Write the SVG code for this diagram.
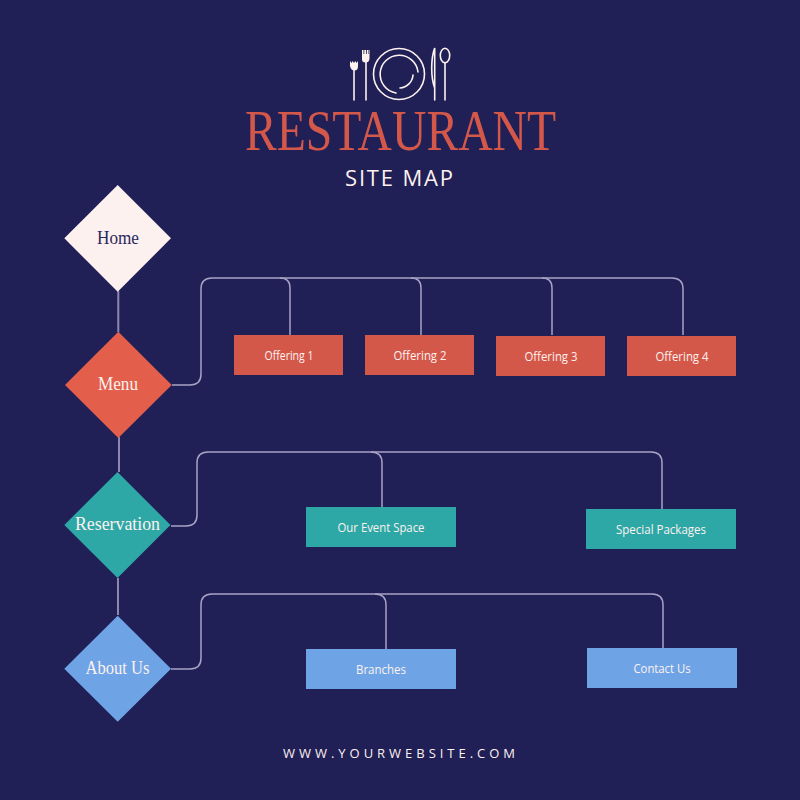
<svg xmlns="http://www.w3.org/2000/svg" width="800" height="800" viewBox="0 0 800 800">
<style>
.ser{font-family:"Liberation Serif","Times New Roman",serif}
.san{font-family:"Open Sans","Liberation Sans",sans-serif}
.d{font-size:18px;text-anchor:middle;fill:#fdf1ef}
.b{font-size:13px;text-anchor:middle;fill:#fdf1ef}
.c{fill:none;stroke:#a8a2c4;stroke-width:1.5}
.v{fill:none;stroke:#8d87ad;stroke-width:2}
.i{fill:none;stroke:#fdf1ef;stroke-width:1.6;stroke-linecap:round}
.f{fill:#fdf1ef}
.r{fill:#d4584a}.t{fill:#2ea8a6}.u{fill:#6ea4e6}
</style>
<rect width="800" height="800" fill="#201f56"/>
<g id="icon" class="i">
<path d="M354 100V70"/>
<path class="f" stroke="none" d="M350 61l1.500 2 1.200-2 1.300 2 1.300-2 1.200 2 1.500-2v5q0 4.500-3.500 4.500T350 66z"/>
<path d="M366 100V62"/>
<path class="f" stroke="none" d="M362 50h1.500v4h.8v-4h1.700v4h.8v-4h1.700v4h.5v-4h.5v8q0 4.500-4 4.500T362 58z"/>
<circle cx="399" cy="74" r="25.500"/>
<path d="M418 72A19 19 0 1 0 396 93"/>
<path d="M413 75A14 14 0 0 1 400 88"/>
<path d="M434.700 100V48q-3 8-3 20t3 20"/>
<ellipse cx="445" cy="55.500" rx="4.700" ry="7.300"/>
<path d="M445 63V100"/>
</g>
<g id="title">
<text class="ser" x="400.500" y="150" font-size="56" text-anchor="middle" textLength="311" lengthAdjust="spacingAndGlyphs" fill="#d4584a">RESTAURANT</text>
<text class="san" x="399" y="186" font-size="22" text-anchor="middle" textLength="108" fill="#fdf1ef">SITE MAP</text>
</g>
<g id="connectors">
<path class="v" d="M118.300 291V332M119 437V472M118 578V615"/>
<g class="c">
<path d="M172 385H190Q201 385 201 374V289Q201 278 212 278H672Q683 278 683 289V335"/>
<path d="M280 278Q290 278 290 288V335M411 278Q421 278 421 288V335M542 278Q552 278 552 288V335"/>
<path d="M171 526H186Q197 526 197 515V463Q197 452 208 452H651Q662 452 662 463V509"/>
<path d="M371 452Q382 452 382 463V507"/>
<path d="M171 669H190Q201 669 201 658V605Q201 594 212 594H652Q663 594 663 605V648"/>
<path d="M375 594Q386 594 386 605V649"/>
</g>
</g>
<g id="home"><polygon points="117.700,185 171,238.300 117.700,291.700 64.300,238.300" fill="#fdf1ef"/><text class="ser d" x="118" y="244" textLength="42" lengthAdjust="spacingAndGlyphs" style="fill:#2a2860">Home</text></g>
<g id="menu"><polygon points="118.300,331.700 171.700,385 118.300,438 65,385" fill="#e35f4c"/><text class="ser d" x="118" y="390" textLength="40" lengthAdjust="spacingAndGlyphs">Menu</text></g>
<g id="reservation"><polygon points="117.500,472 170.500,525 117.500,578 64.300,525" class="t"/><text class="ser d" x="117.500" y="530" textLength="85" lengthAdjust="spacingAndGlyphs">Reservation</text></g>
<g id="about"><polygon points="117.700,615.700 171,668.700 117.700,721.700 64.300,668.700" class="u"/><text class="ser d" x="117.500" y="674" textLength="64" lengthAdjust="spacingAndGlyphs">About Us</text></g>
<g id="offering1"><rect x="234" y="335" width="109" height="40" class="r"/><text class="san b" x="289" y="360" textLength="49" lengthAdjust="spacingAndGlyphs">Offering 1</text></g>
<g id="offering2"><rect x="365" y="335" width="109" height="40" class="r"/><text class="san b" x="420" y="360" textLength="53" lengthAdjust="spacingAndGlyphs">Offering 2</text></g>
<g id="offering3"><rect x="496" y="336" width="109" height="40" class="r"/><text class="san b" x="551" y="361" textLength="53" lengthAdjust="spacingAndGlyphs">Offering 3</text></g>
<g id="offering4"><rect x="627" y="336" width="109" height="40" class="r"/><text class="san b" x="682" y="361" textLength="53" lengthAdjust="spacingAndGlyphs">Offering 4</text></g>
<g id="event"><rect x="306" y="507" width="150" height="40" class="t"/><text class="san b" x="381" y="532" textLength="87" lengthAdjust="spacingAndGlyphs">Our Event Space</text></g>
<g id="packages"><rect x="586" y="509" width="150" height="40" class="t"/><text class="san b" x="661" y="534" textLength="90" lengthAdjust="spacingAndGlyphs">Special Packages</text></g>
<g id="branches"><rect x="306" y="649" width="150" height="40" class="u"/><text class="san b" x="381" y="674" textLength="50" lengthAdjust="spacingAndGlyphs">Branches</text></g>
<g id="contact"><rect x="587" y="648" width="150" height="40" class="u"/><text class="san b" x="662" y="673" textLength="57" lengthAdjust="spacingAndGlyphs">Contact Us</text></g>
<text class="san" x="399" y="758" font-size="13" text-anchor="middle" textLength="232" fill="#fdf1ef">WWW.YOURWEBSITE.COM</text>
</svg>
